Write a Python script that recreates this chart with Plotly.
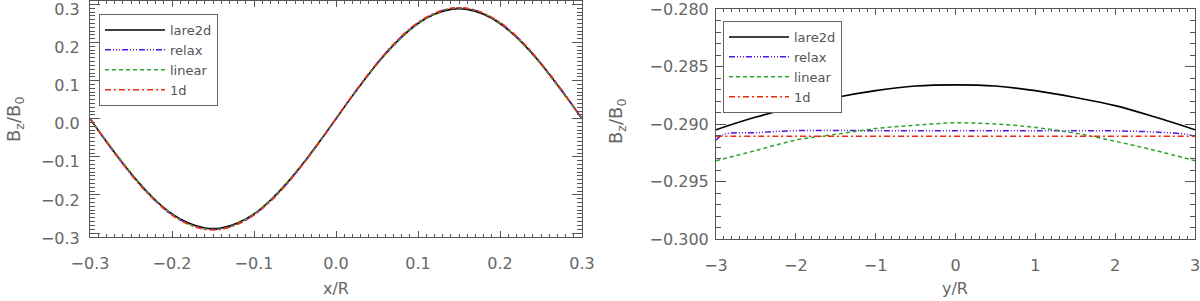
import plotly.graph_objects as go

# ---------------- data: left panel (x/R) ----------------
x_left = [-0.30, -0.28, -0.26, -0.24, -0.22, -0.20, -0.18, -0.16, -0.14, -0.12,
          -0.10, -0.08, -0.06, -0.04, -0.02, 0.00, 0.02, 0.04, 0.06, 0.08,
          0.10, 0.12, 0.14, 0.16, 0.18, 0.20, 0.22, 0.24, 0.26, 0.28, 0.30]
lare2d_left = [0.000, -0.060, -0.117, -0.169, -0.214, -0.250, -0.274, -0.287, -0.287, -0.274,
               -0.250, -0.214, -0.169, -0.117, -0.060, 0.000, 0.060, 0.117, 0.169, 0.214,
               0.250, 0.274, 0.287, 0.287, 0.274, 0.250, 0.214, 0.169, 0.117, 0.060, 0.000]
relax_left = [0.000, -0.061, -0.118, -0.171, -0.216, -0.252, -0.276, -0.289, -0.289, -0.276,
              -0.252, -0.216, -0.171, -0.118, -0.061, 0.000, 0.061, 0.118, 0.171, 0.216,
              0.252, 0.276, 0.289, 0.289, 0.276, 0.252, 0.216, 0.171, 0.118, 0.061, 0.000]
linear_left = [0.000, -0.058, -0.115, -0.168, -0.214, -0.251, -0.276, -0.289, -0.289, -0.275,
               -0.250, -0.213, -0.168, -0.116, -0.059, 0.000, 0.059, 0.116, 0.168, 0.213,
               0.250, 0.275, 0.289, 0.289, 0.276, 0.251, 0.214, 0.168, 0.115, 0.058, 0.000]
oned_left = [0.000, -0.061, -0.119, -0.172, -0.217, -0.253, -0.277, -0.290, -0.290, -0.277,
             -0.253, -0.217, -0.172, -0.119, -0.061, 0.000, 0.061, 0.119, 0.172, 0.217,
             0.253, 0.277, 0.290, 0.290, 0.277, 0.253, 0.217, 0.172, 0.119, 0.061, 0.000]

# ---------------- data: right panel (y/R) ----------------
y_right = [-3.0, -2.5, -2.0, -1.5, -1.0, -0.5, 0.0, 0.5, 1.0, 1.5, 2.0, 2.5, 3.0]
lare2d_right = [-0.2905, -0.2894, -0.2885, -0.2877, -0.2871, -0.2867, -0.2866,
                -0.2867, -0.2871, -0.2877, -0.2884, -0.2894, -0.2905]
linear_right = [-0.2932, -0.2923, -0.2914, -0.2909, -0.2904, -0.2901, -0.2899,
                -0.2900, -0.2903, -0.2908, -0.2915, -0.2923, -0.2932]
y_relax = [-3.0, -2.9, -2.5, -2.0, -1.0, 0.0, 1.0, 2.0, 2.5, 2.9, 3.0]
relax_right = [-0.2914, -0.2909, -0.29075, -0.29058, -0.29058, -0.29058, -0.29058,
               -0.2906, -0.2907, -0.2909, -0.2911]
y_oned = [-3.0, -2.0, -1.0, 0.0, 1.0, 2.0, 3.0]
oned_right = [-0.29107, -0.29107, -0.29107, -0.29107, -0.29107, -0.29107, -0.29107]

names = ["lare2d", "relax", "linear", "1d"]
colors = ["#000000", "#5014e0", "#2ea32e", "#f22a0c"]
dashes = ["solid", "6px,2px,1px,2px,1px,2px,1px,2px", "4px,3px", "6px,3px,2px,3px"]
widths = [1.6, 1.5, 1.5, 1.5]

fig = go.Figure()

left_series = [lare2d_left, relax_left, linear_left, oned_left]
for i, ys in enumerate(left_series):
    fig.add_trace(go.Scatter(
        x=x_left, y=ys, mode="lines", name=names[i],
        line=dict(color=colors[i], dash=dashes[i], width=widths[i], shape="spline"),
        xaxis="x", yaxis="y", legend="legend"))

right_x = [y_right, y_relax, y_right, y_oned]
right_series = [lare2d_right, relax_right, linear_right, oned_right]
for i, ys in enumerate(right_series):
    fig.add_trace(go.Scatter(
        x=right_x[i], y=ys, mode="lines", name=names[i],
        line=dict(color=colors[i], dash=dashes[i], width=widths[i], shape="spline"),
        xaxis="x2", yaxis="y2", legend="legend2"))

axcol = "#555555"
txtcol = "#666666"
tickfont = dict(family="DejaVu Sans", size=16, color=txtcol)

common_x = dict(showline=True, linecolor=axcol, linewidth=1, mirror="ticks",
                ticks="inside", ticklen=6, tickcolor=axcol, tickwidth=1,
                showgrid=False, zeroline=False, tickfont=tickfont,
                ticklabelstandoff=12, ticklabeloverflow="allow", automargin=False)
common_y = dict(showline=True, linecolor=axcol, linewidth=1, mirror="ticks",
                ticks="inside", ticklen=10, tickcolor=axcol, tickwidth=1,
                showgrid=False, zeroline=False, tickfont=tickfont,
                ticklabeloverflow="allow", automargin=False)

W, H = 1200, 301

fig.update_layout(
    width=W, height=H,
    margin=dict(l=0, r=0, t=0, b=0, pad=0, autoexpand=False),
    paper_bgcolor="white", plot_bgcolor="white",
    showlegend=True,
    xaxis=dict(domain=[90 / W, 582 / W], range=[-0.3, 0.3], anchor="y",
               tickvals=[-0.3, -0.2, -0.1, 0.0, 0.1, 0.2, 0.3], tickformat=".1f",
               minor=dict(ticks="inside", ticklen=3, dtick=0.01, tickcolor=axcol),
               **common_x),
    yaxis=dict(domain=[(H - 237) / H, (H - 1) / H], range=[-0.3105, 0.309], anchor="x",
               tickvals=[-0.3, -0.2, -0.1, 0.0, 0.1, 0.2, 0.3], tickformat=".1f",
               minor=dict(ticks="inside", ticklen=5, dtick=0.01, tickcolor=axcol),
               ticklabelstandoff=6, ticklabelshift=5,
               **common_y),
    xaxis2=dict(domain=[716 / W, 1195 / W], range=[-3, 3], anchor="y2",
                tickvals=[-3, -2, -1, 0, 1, 2, 3], tickformat="d",
                minor=dict(ticks="inside", ticklen=3, dtick=0.1, tickcolor=axcol),
                **common_x),
    yaxis2=dict(domain=[(H - 239) / H, (H - 9) / H], range=[-0.300, -0.280], anchor="x2",
                tickvals=[-0.300, -0.295, -0.290, -0.285, -0.280], tickformat=".3f",
                minor=dict(ticks="inside", ticklen=5, dtick=0.001, tickcolor=axcol),
                ticklabelstandoff=3,
                **common_y),
    legend=dict(x=99 / W, y=(H - 14) / H, xanchor="left", yanchor="top",
                bgcolor="white", bordercolor="#666666", borderwidth=1,
                font=dict(family="DejaVu Sans", size=13, color="#555555"),
                tracegroupgap=0, itemwidth=60),
    legend2=dict(x=723 / W, y=(H - 21) / H, xanchor="left", yanchor="top",
                 bgcolor="white", bordercolor="#666666", borderwidth=1,
                 font=dict(family="DejaVu Sans", size=13, color="#555555"),
                 tracegroupgap=0, itemwidth=60),
    annotations=[
        dict(text="x/R", x=336 / W, y=(H - 288) / H, xref="paper", yref="paper",
             showarrow=False, xanchor="center", yanchor="middle",
             font=dict(family="DejaVu Sans", size=16, color=txtcol)),
        dict(text="y/R", x=955 / W, y=(H - 288) / H, xref="paper", yref="paper",
             showarrow=False, xanchor="center", yanchor="middle",
             font=dict(family="DejaVu Sans", size=16, color=txtcol)),
        dict(text="B<sub>z</sub>/B<sub>0</sub>", x=15 / W, y=(H - 120) / H,
             xref="paper", yref="paper", textangle=-90,
             showarrow=False, xanchor="center", yanchor="middle",
             font=dict(family="DejaVu Sans", size=18, color=txtcol)),
        dict(text="B<sub>z</sub>/B<sub>0</sub>", x=617 / W, y=(H - 122) / H,
             xref="paper", yref="paper", textangle=-90,
             showarrow=False, xanchor="center", yanchor="middle",
             font=dict(family="DejaVu Sans", size=18, color=txtcol)),
    ],
)

fig.write_html(
    "out.html",
    config={"displayModeBar": False, "staticPlot": True},
    post_script="document.body.style.margin='0';document.body.style.padding='0';"
                "document.documentElement.style.overflow='hidden';",
)
